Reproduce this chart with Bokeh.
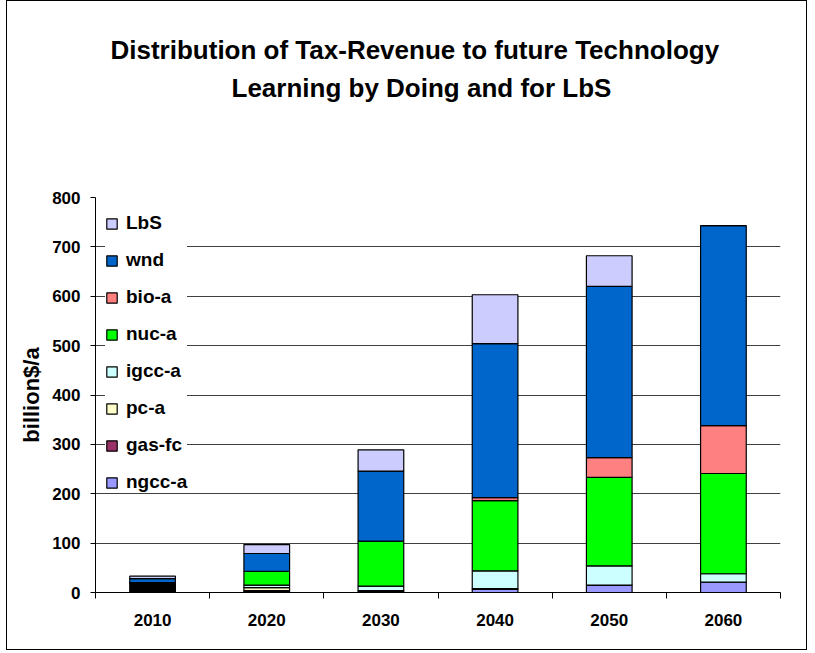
from bokeh.plotting import figure
from bokeh.models import Range1d, FixedTicker, Legend, LegendItem, Title, ColumnDataSource
from bokeh.embed import file_html
from bokeh.resources import INLINE

years = [2010, 2020, 2030, 2040, 2050, 2060]
year_labels = ["2010", "2020", "2030", "2040", "2050", "2060"]

other = [20, 0, 0, 0, 0, 0]
ngcc_a = [0, 2, 1, 7, 15, 21]
gas_fc = [0, 2, 2, 0, 0, 0]
pc_a = [0, 6, 1, 1, 0, 0]
igcc_a = [0, 5, 9, 36, 39, 17]
nuc_a = [0, 28, 91, 142, 179, 203]
bio_a = [0, 0, 0, 6, 40, 97]
wnd = [8, 36, 142, 312, 347, 405]
LbS = [5, 18, 43, 99, 62, 0]

series = ["other", "ngcc-a", "gas-fc", "pc-a", "igcc-a", "nuc-a", "bio-a", "wnd", "LbS"]
colors = ["#000000", "#9999FF", "#993366", "#FFFFCC", "#CCFFFF", "#00FF00", "#FF8080", "#0066CC", "#CCCCFF"]

source = ColumnDataSource(data={
    "year": years,
    "other": other, "ngcc-a": ngcc_a, "gas-fc": gas_fc, "pc-a": pc_a,
    "igcc-a": igcc_a, "nuc-a": nuc_a, "bio-a": bio_a, "wnd": wnd, "LbS": LbS,
})

FONT = "Liberation Sans"

p = figure(width=801, height=650, output_backend="svg", toolbar_location=None,
           title=None,
           x_range=Range1d(2005, 2065), y_range=Range1d(0, 800),
           min_border_left=88, min_border_right=28, min_border_bottom=59, min_border_top=196)
p.styles = {"border": "1px solid black", "margin-left": "6px"}
p.outline_line_color = None
p.background_fill_color = "white"
p.border_fill_color = "white"

renderers = p.vbar_stack(series, x="year", width=4.0, source=source, color=colors,
                         line_color="black", line_width=1.2)

# titles (spacer, second line, first line; stacked upward from the frame)
spacer = Title(text=" ", text_font=FONT, text_font_size="26px", standoff=60)
t2 = Title(text="Learning by Doing and for LbS", align="left", text_font=FONT,
           text_font_size="26px", text_font_style="bold", text_color="black", standoff=5, offset=136)
t1 = Title(text="Distribution of Tax-Revenue to future Technology", align="left", text_font=FONT,
           text_font_size="26px", text_font_style="bold", text_color="black", standoff=7, offset=15)
p.add_layout(spacer, "above")
p.add_layout(t2, "above")
p.add_layout(t1, "above")

# axes
p.xaxis.ticker = FixedTicker(ticks=years, minor_ticks=[2005, 2015, 2025, 2035, 2045, 2055, 2065])
p.xaxis.major_label_overrides = {y: l for y, l in zip(years, year_labels)}
p.xaxis.major_tick_line_color = None
p.xaxis.minor_tick_line_color = "black"
p.xaxis.minor_tick_out = 6
p.xaxis.minor_tick_in = 0
p.xaxis.axis_line_color = "black"
p.xaxis.major_label_text_font = FONT
p.xaxis.major_label_text_font_style = "bold"
p.xaxis.major_label_text_font_size = "17px"
p.xaxis.major_label_text_color = "black"
p.xaxis.major_label_standoff = 15

p.yaxis.ticker = FixedTicker(ticks=list(range(0, 801, 100)))
p.yaxis.minor_tick_line_color = None
p.yaxis.major_tick_out = 5
p.yaxis.major_tick_in = 0
p.yaxis.major_tick_line_color = "black"
p.yaxis.axis_line_color = "black"
p.yaxis.major_label_text_font = FONT
p.yaxis.major_label_text_font_style = "bold"
p.yaxis.major_label_text_font_size = "17px"
p.yaxis.major_label_text_color = "black"
p.yaxis.major_label_standoff = 10
p.yaxis.axis_label = "billion$/a"
p.yaxis.axis_label_text_font = FONT
p.yaxis.axis_label_text_font_style = "bold"
p.yaxis.axis_label_text_font_size = "22px"
p.yaxis.axis_label_text_color = "black"
p.yaxis.axis_label_standoff = 5

p.xgrid.grid_line_color = None
p.ygrid.ticker = FixedTicker(ticks=list(range(100, 801, 100)))
p.ygrid.grid_line_color = "#404040"
p.ygrid.grid_line_width = 1

# legend (top entry LbS, excluding the unlabeled black part)
items = [LegendItem(label=name, renderers=[r]) for name, r in zip(series, renderers) if name != "other"]
items = items[::-1]
legend = Legend(items=items, location=(10, 99), padding=0, margin=0,
                glyph_width=13, glyph_height=13, label_standoff=8,
                label_height=22, spacing=15,
                label_text_font=FONT, label_text_font_style="bold", label_text_font_size="19px",
                label_text_color="black", border_line_color=None, background_fill_color="white",
                background_fill_alpha=1.0)
p.add_layout(legend, "center")

open("out.html", "w").write(file_html(p, INLINE))
